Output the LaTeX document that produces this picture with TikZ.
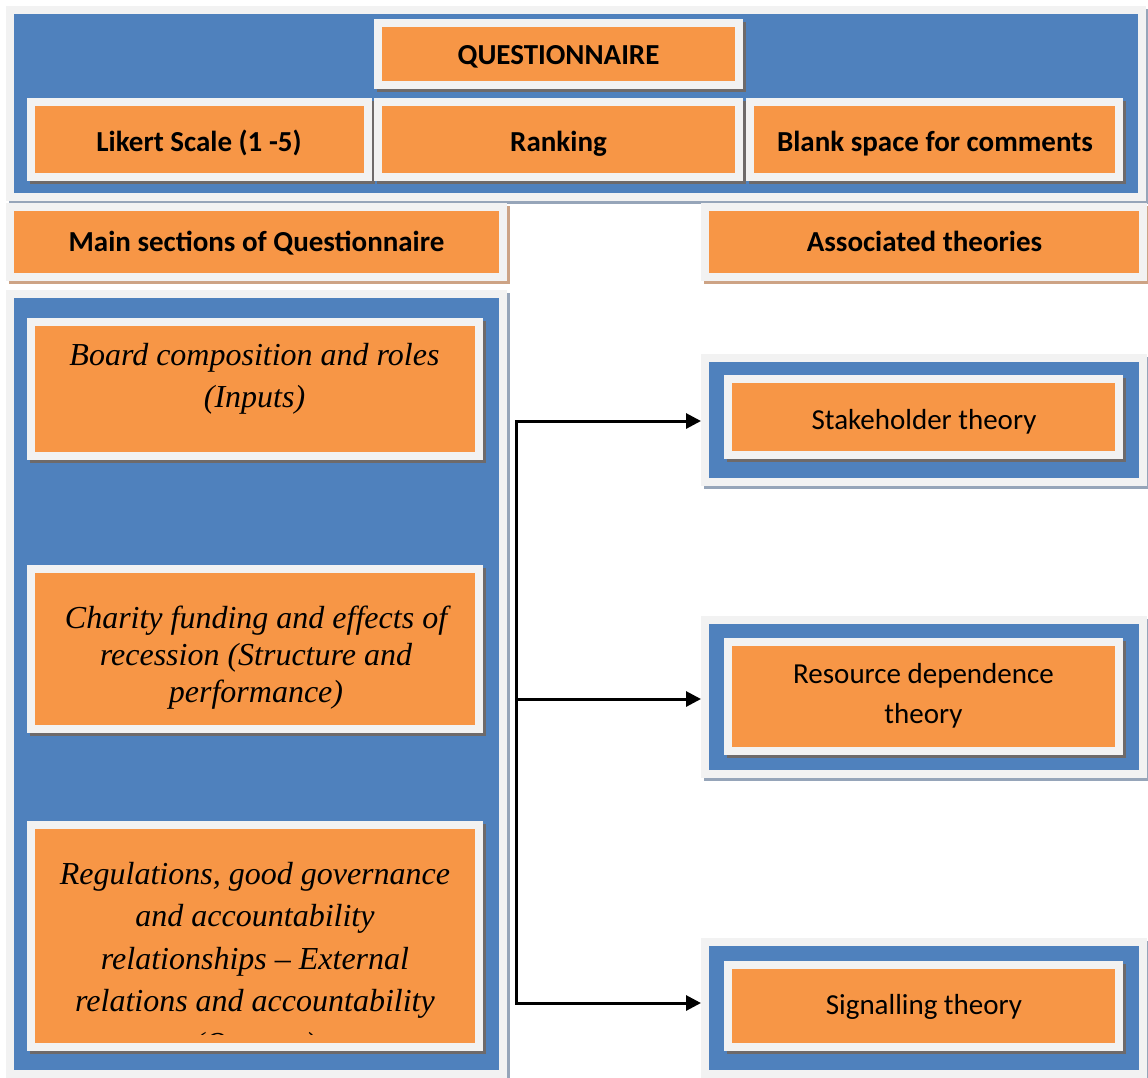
\documentclass[tikz,border=0pt]{standalone}
\usepackage{fontspec}
\setmainfont{Liberation Serif}
\newfontfamily\calibrisub{Carlito}
\usetikzlibrary{shadows,arrows.meta}

\definecolor{panelblue}{HTML}{4F81BD}
\definecolor{boxorange}{HTML}{F79646}
\definecolor{framegrey}{HTML}{F2F2F2}
\definecolor{darkshade}{HTML}{6E6A6A}
\definecolor{tanshade}{HTML}{CDA385}
\definecolor{blueshade}{HTML}{96A5B9}

\newcommand\qhead{\calibrisub\bfseries\fontsize{29}{35}\selectfont}
\newcommand\qtheory{\calibrisub\fontsize{29}{40}\selectfont}
\newcommand\qsection{\itshape\fontsize{32}{42.5}\selectfont}
\newcommand\qsectiontight{\itshape\fontsize{32}{37}\selectfont}

\begin{document}
\begin{tikzpicture}[x=1pt,y=-1pt,
  framed/.style={rectangle, draw=framegrey, line width=8pt, inner sep=0pt},
  sz/.style 2 args={minimum width=#1, minimum height=#2},
  castshadow/.style={general shadow={fill=#1, draw=#1, shadow xshift=3pt, shadow yshift=-3pt}},
  panel/.style={framed, fill=panelblue, castshadow=blueshade},
  obox/.style={framed, fill=boxorange, castshadow=darkshade},
  hbox/.style={framed, fill=boxorange, castshadow=tanshade},
  capmid/.style={text height=18.3pt, text depth=0pt, inner sep=0pt},
  btxt/.style={font=\qhead, capmid},
  ttxt/.style={font=\qtheory, align=center, inner sep=0pt},
  stxt/.style={font=\qsection, align=center, inner sep=0pt},
  bus/.style={line width=3pt},
  feed/.style={bus, -{Triangle[length=15pt,width=15pt]}}]

\fill[white] (0,0) rectangle (1148,1077);
\useasboundingbox (0,0) rectangle (1148,1077);

% questionnaire panel
\node[panel, sz={1132pt}{187pt}] (top) at (576,103) {};
\node[obox, sz={361pt}{62pt}] (qbox) at (558.5,54) {};
\node[btxt] (qtxt) at (558.5,55.5) {QUESTIONNAIRE};
\node[obox, sz={337pt}{75pt}] (likert) at (199.5,139.5) {};
\node[btxt] (likerttxt) at (199,142.7) {Likert Scale (1 -5)};
\node[obox, sz={361pt}{75pt}] (ranking) at (558.5,139.5) {};
\node[btxt] (rankingtxt) at (558.5,142.5) {Ranking};
\node[obox, sz={369pt}{75pt}] (blank) at (934.5,139.5) {};
\node[btxt] (blanktxt) at (935,142.5) {Blank space for comments};

% column headers
\node[hbox, sz={493pt}{70pt}] (mainhdr) at (256.5,242) {};
\node[btxt] (mainhdrtxt) at (256.5,242) {Main sections of Questionnaire};
\node[hbox, sz={438pt}{70pt}] (assochdr) at (924,242) {};
\node[btxt] (assochdrtxt) at (924.5,242) {Associated theories};

% sections column
\node[panel, sz={493pt}{780pt}] (sections) at (256.5,684) {};
\node[obox, sz={448pt}{134pt}] (board) at (255,389) {};
\node[stxt] (boardtxt) at (254.5,379) {Board composition and roles\\(Inputs)};
\node[obox, sz={448pt}{160pt}] (charity) at (255,649) {};
\node[stxt, font=\qsectiontight] (charitytxt) at (256,657.5)
  {Charity funding and effects of\\recession (Structure and\\performance)};
\node[obox, sz={448pt}{222pt}] (regs) at (255,936) {};
\begin{scope}
  \clip (31,825) rectangle (479,1034);
  \node[stxt] (regstxt) at (255,961.5)
    {Regulations, good governance\\and accountability\\relationships -- External\\relations and accountability\\(Outputs)};
\end{scope}

% theories column
\node[panel, sz={438pt}{124pt}] (stake) at (924,420) {};
\node[obox, sz={391pt}{76pt}] (stakein) at (923.5,417) {};
\node[font=\qtheory, capmid] (staketxt) at (924,420) {Stakeholder theory};

\node[panel, sz={438pt}{154pt}] (resource) at (924,697) {};
\node[obox, sz={391pt}{109pt}] (resourcein) at (923.5,696.5) {};
\node[ttxt] (resourcetxt) at (923.5,696) {Resource dependence\\theory};

\node[panel, sz={438pt}{132pt}] (signal) at (924,1008) {};
\node[obox, sz={391pt}{82pt}] (signalin) at (923.5,1006) {};
\node[font=\qtheory, capmid] (signaltxt) at (924,1005) {Signalling theory};

% connectors
\coordinate (b1) at (516,421);
\coordinate (b2) at (516,699);
\coordinate (b3) at (516,1003);
\draw[feed] (b2) -- (b1) -- (b1 -| stake.west);
\draw[feed] (b2) -- (b3) -- (b3 -| signal.west);
\draw[feed] (b2) -- (b2 -| resource.west);
\end{tikzpicture}
\end{document}
